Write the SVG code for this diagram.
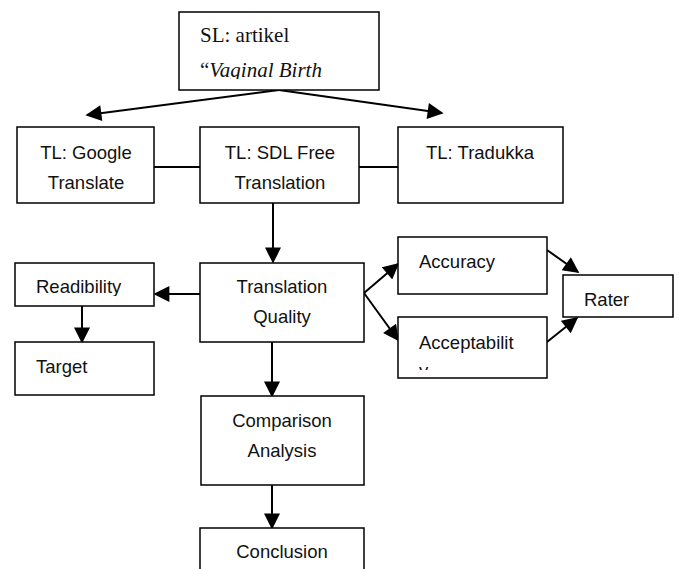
<svg xmlns="http://www.w3.org/2000/svg" width="678" height="569" viewBox="0 0 678 569">
<style>
.box{fill:#fff;stroke:#000;stroke-width:1.5}
.t{font-family:"Liberation Sans",Arial,sans-serif;font-size:18.5px;fill:#111}
.c{text-anchor:middle}
.s{font-family:"Liberation Serif","Times New Roman",serif;font-size:21px;fill:#111}
.ln{stroke:#000;stroke-width:2;fill:none}
.ar{marker-end:url(#ah)}
</style>
<defs>
<marker id="ah" viewBox="0 0 10 10" refX="9" refY="5" markerWidth="8.5" markerHeight="8" orient="auto" markerUnits="strokeWidth">
<path d="M0,0 L10,5 L0,10 Z" fill="#000"/>
</marker>
<clipPath id="clipSL"><rect x="179" y="12" width="200" height="67"/></clipPath>
<clipPath id="clipRead"><rect x="15" y="263" width="139" height="33"/></clipPath>
<clipPath id="clipAcc"><rect x="398" y="317" width="149" height="53"/></clipPath>
</defs>
<rect width="678" height="569" fill="#fff"/>
<g id="connectors">
<line class="ln ar" x1="279" y1="90" x2="87" y2="115"/>
<line class="ln ar" x1="279" y1="90" x2="442" y2="113"/>
<line class="ln" x1="154" y1="167" x2="200" y2="167"/>
<line class="ln" x1="359" y1="167" x2="398" y2="167"/>
<line class="ln ar" x1="273" y1="203" x2="273" y2="262"/>
<line class="ln ar" x1="200" y1="294" x2="155" y2="294"/>
<line class="ln ar" x1="82" y1="306" x2="82" y2="342"/>
<line class="ln ar" x1="364" y1="293" x2="398" y2="264"/>
<line class="ln ar" x1="364" y1="293" x2="398" y2="340"/>
<line class="ln ar" x1="547" y1="250" x2="578" y2="272"/>
<line class="ln ar" x1="547" y1="342" x2="577" y2="318"/>
<line class="ln ar" x1="272" y1="342" x2="272" y2="396"/>
<line class="ln ar" x1="272" y1="485" x2="272" y2="528"/>
</g>
<g id="sl">
<rect class="box" x="179" y="12" width="200" height="78"/>
<g clip-path="url(#clipSL)">
<text class="s" x="200" y="42">SL: artikel</text>
<text class="s" x="200" y="77">“<tspan font-style="italic">Vaginal Birth</tspan></text>
</g>
</g>
<g id="google">
<rect class="box" x="17" y="127" width="137" height="76"/>
<text class="t c" x="86" y="159">TL: Google</text>
<text class="t c" x="86" y="189">Translate</text>
</g>
<g id="sdl">
<rect class="box" x="200" y="127" width="159" height="76"/>
<text class="t c" x="280" y="159">TL: SDL Free</text>
<text class="t c" x="280" y="189">Translation</text>
</g>
<g id="tradukka">
<rect class="box" x="398" y="127" width="165" height="76"/>
<text class="t c" x="480" y="159">TL: Tradukka</text>
</g>
<g id="readibility">
<rect class="box" x="15" y="263" width="139" height="43"/>
<g clip-path="url(#clipRead)"><text class="t" x="36" y="293">Readibility</text></g>
</g>
<g id="target">
<rect class="box" x="15" y="342" width="139" height="53"/>
<text class="t" x="36" y="373">Target</text>
</g>
<g id="quality">
<rect class="box" x="200" y="263" width="164" height="79"/>
<text class="t c" x="282" y="293">Translation</text>
<text class="t c" x="282" y="323">Quality</text>
</g>
<g id="accuracy">
<rect class="box" x="398" y="237" width="149" height="57"/>
<text class="t" x="419" y="268">Accuracy</text>
</g>
<g id="acceptability">
<rect class="box" x="398" y="317" width="149" height="61"/>
<g clip-path="url(#clipAcc)">
<text class="t" x="419" y="349">Acceptabilit</text>
<text class="t" x="419" y="377">y</text>
</g>
</g>
<g id="rater">
<rect class="box" x="563" y="275" width="110" height="42"/>
<text class="t" x="584" y="306">Rater</text>
</g>
<g id="comparison">
<rect class="box" x="201" y="396" width="163" height="89"/>
<text class="t c" x="282" y="427">Comparison</text>
<text class="t c" x="282" y="457">Analysis</text>
</g>
<g id="conclusion">
<rect class="box" x="200" y="528" width="164" height="50"/>
<text class="t c" x="282" y="558">Conclusion</text>
</g>
</svg>
